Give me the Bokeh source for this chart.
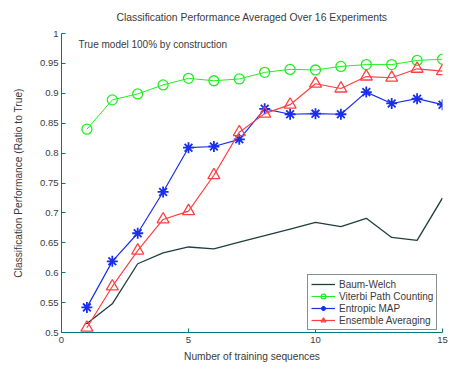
from bokeh.plotting import figure
from bokeh.models import Legend, LegendItem, Label, Range1d, FixedTicker
from bokeh.embed import file_html
from bokeh.resources import INLINE

x = list(range(1, 16))
baum_welch = [0.515, 0.548, 0.615, 0.633, 0.643, 0.640, 0.651, 0.662, 0.673, 0.684, 0.677, 0.691, 0.659, 0.654, 0.725]
viterbi = [0.840, 0.889, 0.899, 0.914, 0.925, 0.921, 0.924, 0.935, 0.940, 0.939, 0.945, 0.948, 0.948, 0.955, 0.957]
entropic = [0.542, 0.619, 0.666, 0.735, 0.809, 0.811, 0.823, 0.874, 0.865, 0.866, 0.865, 0.902, 0.883, 0.891, 0.881]
ensemble = [0.508, 0.577, 0.637, 0.689, 0.703, 0.763, 0.835, 0.866, 0.881, 0.916, 0.908, 0.928, 0.926, 0.941, 0.937]
series_names = ["Baum-Welch", "Viterbi Path Counting", "Entropic MAP", "Ensemble Averaging"]
x_ticks = [0, 5, 10, 15]
y_ticks = [0.5, 0.55, 0.6, 0.65, 0.7, 0.75, 0.8, 0.85, 0.9, 0.95, 1.0]

FONT = "Liberation Sans"
TXT = "#3a3a3a"
AX = "#007a78"

p = figure(width=460, height=367, output_backend="svg", toolbar_location=None,
           x_range=Range1d(0, 15), y_range=Range1d(0.5, 1.0),
           min_border_left=61, min_border_right=18, min_border_top=33, min_border_bottom=35,
           title="Classification Performance Averaged Over 16 Experiments")
p.outline_line_color = None
p.grid.visible = False
p.background_fill_color = "white"
p.title.align = "center"
p.title.vertical_align = "top"
p.title.text_font = FONT
p.title.text_font_size = "10.4px"
p.title.text_font_style = "normal"
p.title.text_color = TXT
p.title.standoff = 18

for ax in (p.xaxis[0], p.yaxis[0]):
    ax.axis_line_color = AX
    ax.major_tick_line_color = AX
    ax.major_tick_in = 4
    ax.major_tick_out = 0
    ax.minor_tick_line_color = None
    ax.major_label_text_font = FONT
    ax.major_label_text_font_size = "9.5px"
    ax.major_label_text_color = TXT
    ax.axis_label_text_font = FONT
    ax.axis_label_text_font_size = "10.2px"
    ax.axis_label_text_font_style = "normal"
    ax.axis_label_text_color = TXT

p.xaxis.ticker = FixedTicker(ticks=x_ticks)
p.yaxis.ticker = FixedTicker(ticks=y_ticks)
p.yaxis.major_label_overrides = {0.5: "0.5", 1.0: "1"}
p.xaxis.axis_label = "Number of training sequences"
p.yaxis.axis_label = "Classification Performance (Ratio to True)"
p.xaxis.major_label_standoff = 4
p.xaxis.axis_label_standoff = 5
p.yaxis.major_label_standoff = 3
p.yaxis.axis_label_standoff = 13

bw = p.line(x, baum_welch, line_color="#1f3f3f", line_width=1.3)
bwd = p.scatter(x[:1], baum_welch[:1], marker="dot", size=6, color="black")

vl = p.line(x, viterbi, line_color="#22ee22", line_width=1)
vm = p.scatter(x, viterbi, marker="circle", size=10, fill_color=None, line_color="#22ee22", line_width=1.3)

el = p.line(x, entropic, line_color="#1a2ef0", line_width=1.2)
em = p.scatter(x, entropic, marker="asterisk", size=11, line_color="#1a2ef0", line_width=1.8)

al = p.line(x, ensemble, line_color="#ff4040", line_width=1.2)
am = p.scatter(x, ensemble, marker="triangle", size=12, fill_color=None, line_color="#ff4040", line_width=1.3)

p.add_layout(Label(x=0.67, y=0.9816, text="True model 100% by construction", text_font=FONT,
                   text_font_size="10px", text_color=TXT, text_baseline="middle"))

legend = Legend(items=[
    LegendItem(label=series_names[0], renderers=[bw]),
    LegendItem(label=series_names[1], renderers=[vl, vm]),
    LegendItem(label=series_names[2], renderers=[el, em]),
    LegendItem(label=series_names[3], renderers=[al, am]),
], location=(246, 2))
legend.label_text_font = FONT
legend.label_text_font_size = "10px"
legend.label_text_color = TXT
legend.label_height = 12
legend.glyph_height = 12
legend.glyph_width = 24
legend.spacing = 0
legend.padding = 3
legend.margin = 0
legend.label_standoff = 4
legend.border_line_color = "#102020"
legend.border_line_width = 1.5
legend.background_fill_alpha = 1
p.add_layout(legend, "center")

open("out.html", "w").write(file_html(p, INLINE))
